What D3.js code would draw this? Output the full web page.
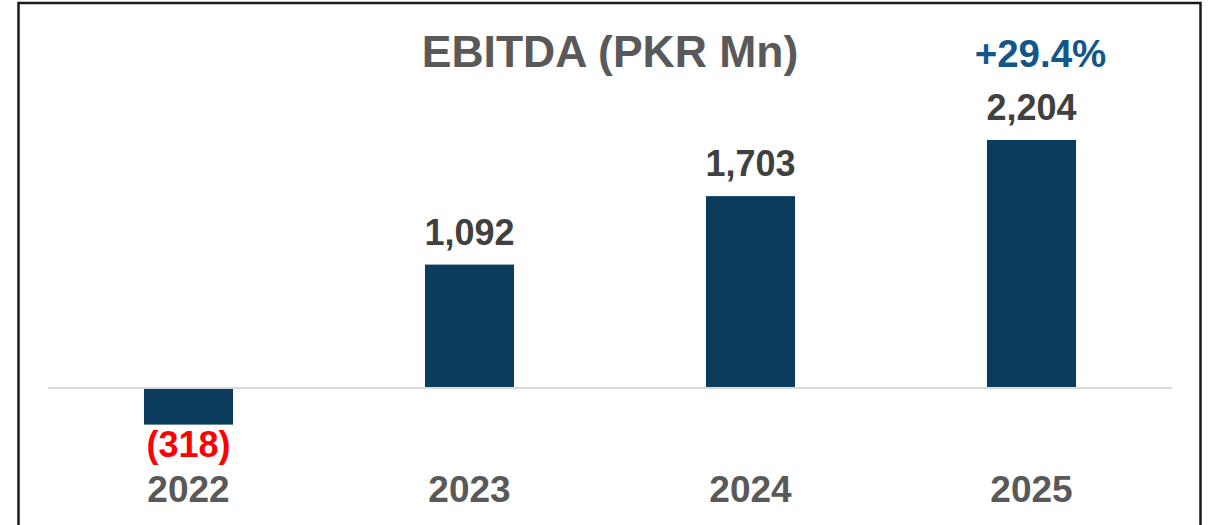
<!DOCTYPE html>
<html>
<head>
<meta charset="utf-8">
<script src="https://cdn.jsdelivr.net/npm/d3@7"></script>
<style>
  body { margin: 0; background: #fff; }
  svg { display: block; font-family: "Liberation Sans", Arial, sans-serif; font-weight: bold; }
</style>
</head>
<body>
<svg></svg>
<script>
const years = ["2022", "2023", "2024", "2025"]
const ebitda = [-318, 1092, 1703, 2204]
const growthLabel = "+29.4%"
const title = "EBITDA (PKR Mn)"

const width = 1208, height = 525

const svg = d3.select("svg")
.attr("width", width)
.attr("height", height)

// frame
svg.append("rect")
.attr("x", 18.5).attr("y", 3)
.attr("width", 1182).attr("height", 530)
.attr("fill", "none")
.attr("stroke", "#1a1a1a")
.attr("stroke-width", 2.5)

const x = d3.scaleBand()
.domain(years)
.range([48, 1172])
.paddingInner(0.683)
.paddingOuter(0.3415)

const y = d3.scaleLinear()
.domain([-500, 2500])
.range([443, 106.8])

const fmt = v => v < 0 ? `(${d3.format(",")(-v)})` : d3.format(",")(v)

// zero line
svg.append("line")
.attr("x1", 48).attr("x2", 1172)
.attr("y1", y(0) + 1).attr("y2", y(0) + 1)
.attr("stroke", "#d9d9d9")
.attr("stroke-width", 2)

const data = years.map((yr, i) => ({year: yr, value: ebitda[i]}))

svg.selectAll("rect.bar")
.data(data)
.join("rect")
.classed("bar", true)
.attr("x", d => x(d.year))
.attr("width", x.bandwidth())
.attr("y", d => d.value >= 0 ? y(d.value) : y(0) + 2)
.attr("height", d => Math.abs(y(d.value) - y(0)))
.attr("fill", "#0b3c5d")

svg.selectAll("text.val")
.data(data)
.join("text")
.classed("val", true)
.attr("x", d => x(d.year) + x.bandwidth() / 2)
.attr("y", d => d.value >= 0 ? y(d.value) - 20 : y(d.value) + 34)
.attr("text-anchor", "middle")
.style("font-size", "36px")
.style("fill", d => d.value < 0 ? "#ff0000" : "#404040")
.text(d => fmt(d.value))

svg.selectAll("text.year")
.data(data)
.join("text")
.classed("year", true)
.attr("x", d => x(d.year) + x.bandwidth() / 2)
.attr("y", 502)
.attr("text-anchor", "middle")
.style("font-size", "37px")
.style("fill", "#595959")
.text(d => d.year)

svg.append("text")
.attr("x", 610)
.attr("y", 67)
.attr("text-anchor", "middle")
.style("font-size", "44.5px")
.style("fill", "#595959")
.text(title)

svg.append("text")
.attr("x", x("2025") + x.bandwidth() / 2 + 9)
.attr("y", 67)
.attr("text-anchor", "middle")
.style("font-size", "38.5px")
.style("fill", "#15568a")
.text(growthLabel)
</script>
</body>
</html>
